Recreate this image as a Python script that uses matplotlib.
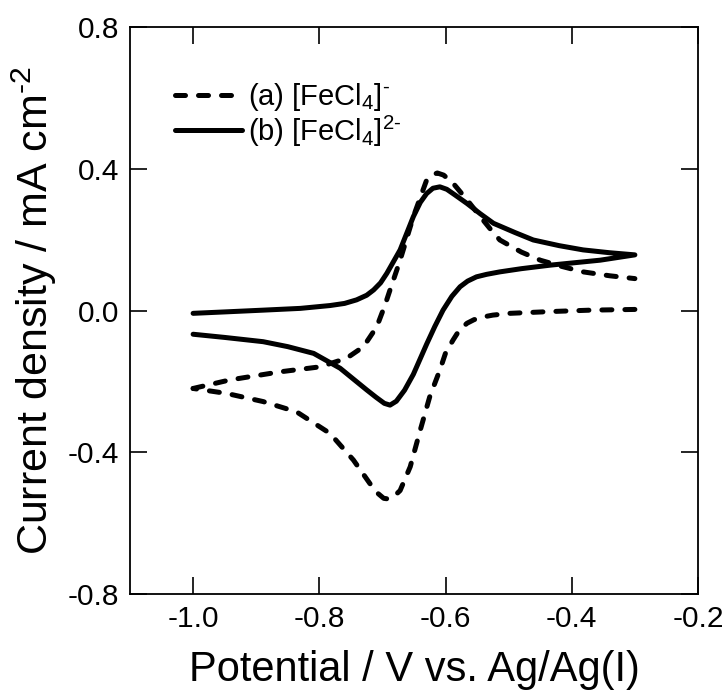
import matplotlib

matplotlib.use("Agg")
import matplotlib.pyplot as plt

plt.rcParams["font.family"] = ["Liberation Sans", "DejaVu Sans"]
plt.rcParams["mathtext.fontset"] = "custom"
plt.rcParams["mathtext.rm"] = "Liberation Sans"
plt.rcParams["mathtext.it"] = "Liberation Sans:italic"
plt.rcParams["axes.unicode_minus"] = False

# (a) [FeCl4]- : forward sweep, then reverse sweep
a_fwd_potential = [-1.0, -0.942, -0.862, -0.799, -0.757, -0.730, -0.709, -0.696, -0.688, -0.672,
                   -0.651, -0.630, -0.622, -0.613, -0.603, -0.588, -0.565, -0.545, -0.530, -0.514,
                   -0.480, -0.450, -0.415, -0.382, -0.340, -0.300]
a_fwd_current = [-0.220, -0.196, -0.173, -0.159, -0.135, -0.102, -0.046, 0.015, 0.058, 0.142,
                 0.265, 0.368, 0.382, 0.388, 0.382, 0.359, 0.310, 0.265, 0.232, 0.199,
                 0.165, 0.142, 0.124, 0.109, 0.098, 0.090]
a_rev_potential = [-0.300, -0.370, -0.434, -0.498, -0.525, -0.540, -0.555, -0.566, -0.578, -0.588,
                   -0.600, -0.609, -0.625, -0.640, -0.656, -0.672, -0.682, -0.690, -0.698, -0.708,
                   -0.720, -0.746, -0.783, -0.836, -0.889, -0.947, -1.0]
a_rev_current = [0.003, 0.001, -0.003, -0.008, -0.013, -0.018, -0.026, -0.036, -0.055, -0.083,
                 -0.120, -0.168, -0.243, -0.337, -0.441, -0.508, -0.525, -0.532, -0.530, -0.515,
                 -0.488, -0.422, -0.347, -0.286, -0.257, -0.234, -0.220]

# (b) [FeCl4]2-
b_potential = [-1.0, -0.950, -0.889, -0.830, -0.783, -0.760, -0.741, -0.725, -0.714, -0.703,
               -0.693, -0.672, -0.651, -0.640, -0.630, -0.620, -0.609, -0.598, -0.585, -0.566,
               -0.545, -0.524, -0.490, -0.461, -0.420, -0.382, -0.340, -0.300,
               -0.355, -0.434, -0.480, -0.514, -0.535, -0.551, -0.565, -0.577, -0.590, -0.604,
               -0.617, -0.630, -0.651, -0.665, -0.678, -0.688, -0.697, -0.710, -0.725, -0.745,
               -0.767, -0.809, -0.850, -0.889, -0.950, -1.0]
b_current = [-0.008, -0.004, 0.001, 0.006, 0.014, 0.020, 0.030, 0.043, 0.058, 0.078,
             0.105, 0.171, 0.265, 0.305, 0.330, 0.345, 0.349, 0.342, 0.326, 0.302,
             0.273, 0.246, 0.220, 0.199, 0.183, 0.171, 0.163, 0.157,
             0.142, 0.128, 0.118, 0.109, 0.102, 0.095, 0.083, 0.067, 0.040, 0.001,
             -0.045, -0.095, -0.180, -0.225, -0.256, -0.267, -0.262, -0.245, -0.224, -0.195,
             -0.163, -0.121, -0.102, -0.088, -0.076, -0.067]

x_ticks = [-1.0, -0.8, -0.6, -0.4, -0.2]
y_ticks = [-0.8, -0.4, 0.0, 0.4, 0.8]

fig = plt.figure(figsize=(7.28, 6.95), dpi=100)
ax = fig.add_axes([130 / 728, 1 - 594 / 695, 568 / 728, 567 / 695])

dash_style = dict(color="black", lw=3.6, linestyle=(0, (2.0, 2.6)), dash_capstyle="round")
ax.plot(a_fwd_potential, a_fwd_current, label="(a) [FeCl$_4$]$^{\\text{-}}$", **dash_style)
ax.plot(a_rev_potential, a_rev_current, **dash_style)
ax.plot(b_potential, b_current, color="black", lw=3.6, solid_capstyle="round",
        label="(b) [FeCl$_4$]$^{\\text{2-}}$")

ax.set_xlim(-1.1, -0.2)
ax.set_ylim(-0.8, 0.8)
ax.set_xticks(x_ticks)
ax.set_yticks(y_ticks)
ax.set_xticklabels([f"{v:.1f}" for v in x_ticks])
ax.set_yticklabels([f"{v:.1f}" for v in y_ticks])
ax.tick_params(direction="in", length=12, width=1.2, top=True, right=True,
               labelsize=21.5, pad=8)
for spine in ax.spines.values():
    spine.set_linewidth(1.3)

ax.set_xlabel("Potential / V vs. Ag/Ag(I)", fontsize=30, labelpad=12)
ax.set_ylabel("Current density / mA cm$^{\\text{-2}}$", fontsize=31, labelpad=6)

ax.legend(loc="upper left", bbox_to_anchor=(0.079, 0.905), frameon=False, fontsize=21,
          handlelength=2.3, handletextpad=0.2, labelspacing=0.02, borderpad=0,
          borderaxespad=0)

fig.savefig("out.png", dpi=100)
plt.close(fig)
